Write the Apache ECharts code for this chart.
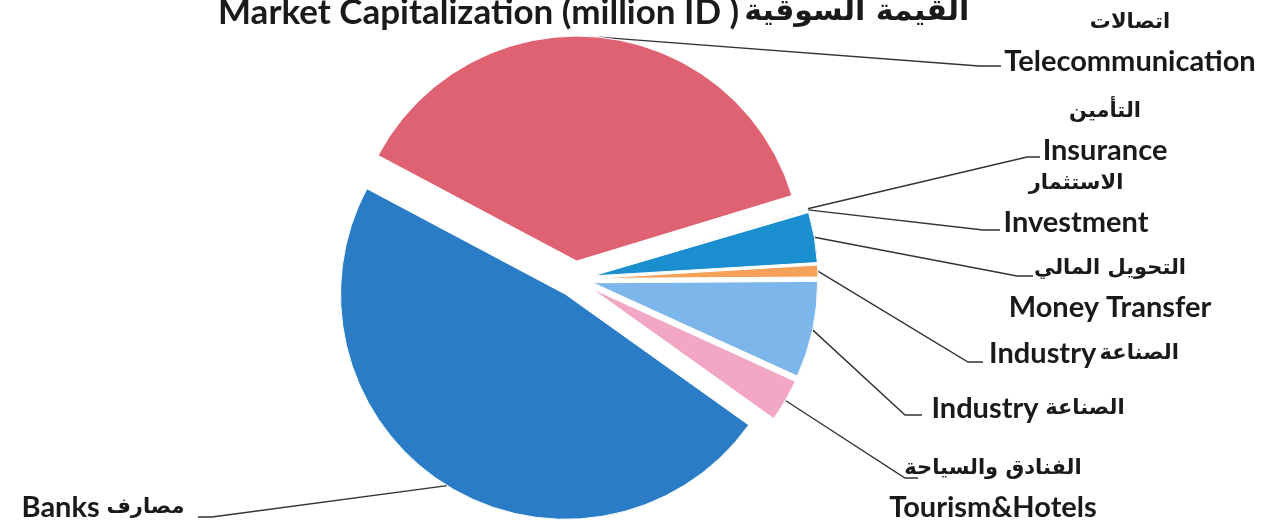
<!DOCTYPE html>
<html>
<head>
<meta charset="utf-8">
<title>Market Capitalization</title>
<script src="https://cdn.jsdelivr.net/npm/echarts@6/dist/echarts.min.js"></script>
<style>
  html, body { margin: 0; padding: 0; background: #fff; }
  #chart { width: 1267px; height: 525px; }
</style>
</head>
<body>
<div id="chart"></div>
<script>
// sectors, clockwise from the Banks / Telecom boundary
const sectorsEn = ['Telecommunication', 'Insurance', 'Investment', 'Money Transfer', 'Industry', 'Industry', 'Tourism&Hotels', 'Banks'];
const sectorsAr = ['اتصالات', 'التأمين', 'الاستثمار', 'التحويل المالي', 'الصناعة', 'الصناعة', 'الفنادق والسياحة', 'مصارف'];
// share of market capitalization (%)
const shares = [37.5, 0.08, 0.08, 3.6, 0.85, 6.9, 3.05, 47.9];

const colors = ['#df6273', '#c9dcc6', '#a9cfe6', '#1b8ed0', '#f6a15a', '#7db6ea', '#f2a8c4', '#2a7cc6'];

// label placement: centre of the text block, end of the leader line, length of the flat bit
const labelCenter = [[1130, 42], [1105, 131], [1076, 203], [1110, 288], [1084, 354], [1028, 409], [993, 488], [103, 508]];
const lineEnd = [[1001, 66], [1040, 157], [1000, 230], [1033, 276], [983, 362], [922, 415], [918, 478], [198, 517]];
const elbowLen = [22, 13, 17, 16, 15, 17, 13, -14];

const CENTER = [575, 279];
const RADIUS = 225;
const EXPLODE = 18;
const FONT = 'Lato, "DejaVu Sans", sans-serif';
const AR_FONT = '"DejaVu Sans", sans-serif';

const chart = echarts.init(document.getElementById('chart'));

function labelText(i) {
  const en = sectorsEn[i], ar = sectorsAr[i];
  if (en === 'Industry') return i === 4 ? '{en|Industry} {ar|' + ar + '}' : '{en|Industry}  {ar|' + ar + '}';
  if (en === 'Banks') return '{en|Banks}  {ar|' + ar + '}';
  return '{ar|' + ar + '}\n{en|' + en + '}';
}

const pieBase = {
  type: 'pie',
  center: CENTER,
  radius: RADIUS,
  startAngle: 152,
  clockwise: true,
  avoidLabelOverlap: false,
  emphasis: { disabled: true },
  animation: false
};

chart.setOption({
  animation: false,
  title: {
    text: '{en|Market Capitalization (million ID )} {ar|القيمة السوقية}',
    left: 213,
    top: -10,
    textStyle: {
      rich: {
        en: { fontFamily: FONT, fontSize: 35, fontWeight: 'bold', color: '#1a1a1a' },
        ar: { fontFamily: AR_FONT, fontSize: 30, fontWeight: 'bold', color: '#1a1a1a' }
      }
    }
  },
  series: [
    // the slices, every one pulled out a little
    Object.assign({}, pieBase, {
      selectedMode: 'multiple',
      selectedOffset: EXPLODE,
      itemStyle: { borderColor: '#fff', borderWidth: 1 },
      label: { show: false },
      labelLine: { show: false },
      data: shares.map((v, i) => ({
        value: v,
        name: sectorsEn[i],
        selected: true,
        itemStyle: { color: colors[i] }
      }))
    }),
    // same pie, invisible, only carrying the labels and leader lines
    Object.assign({}, pieBase, {
      silent: true,
      selectedMode: false,
      itemStyle: { color: 'rgba(0,0,0,0)', borderWidth: 0 },
      label: {
        show: true,
        position: 'outside',
        formatter: p => labelText(p.dataIndex),
        rich: {
          en: { fontFamily: FONT, fontSize: 29, fontWeight: 'bold', color: '#1a1a1a', lineHeight: 39 },
          ar: { fontFamily: AR_FONT, fontSize: 21, fontWeight: 'bold', color: '#1a1a1a', lineHeight: 39 }
        }
      },
      labelLine: { show: true, lineStyle: { color: '#333', width: 1.4 } },
      labelLayout: function (p) {
        const i = p.dataIndex;
        const end = lineEnd[i];
        let start = end;
        if (p.labelLinePoints) {
          // arc midpoint, pushed out along the slice like the slice itself
          const a = p.labelLinePoints[0];
          const vx = a[0] - CENTER[0], vy = a[1] - CENTER[1];
          const len = Math.sqrt(vx * vx + vy * vy) || 1;
          start = [a[0] + EXPLODE * vx / len, a[1] + EXPLODE * vy / len];
        }
        return {
          x: labelCenter[i][0],
          y: labelCenter[i][1],
          align: 'center',
          verticalAlign: 'middle',
          labelLinePoints: [start, [end[0] - elbowLen[i], end[1]], end]
        };
      },
      data: shares.map((v, i) => ({ value: v, name: sectorsEn[i] }))
    })
  ]
});
</script>
</body>
</html>
